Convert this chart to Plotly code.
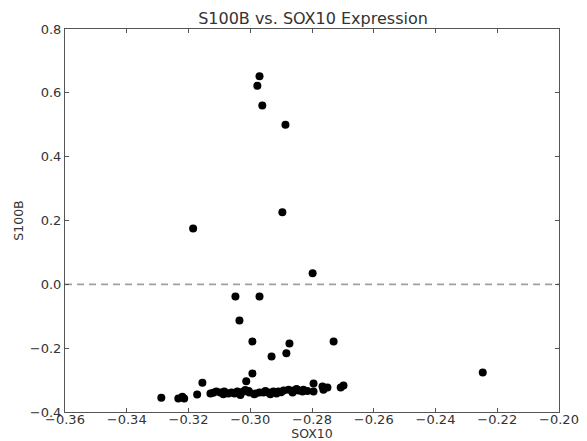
import plotly.graph_objects as go

# SOX10 (x) and S100B (y) expression values
sox10 = [
    -0.2970, -0.2977, -0.2961, -0.2886, -0.2896, -0.3185, -0.2798,
    -0.3048, -0.2970, -0.3035, -0.2993, -0.2873, -0.2730, -0.2883,
    -0.2931, -0.2993, -0.2247, -0.3013, -0.3155,
    -0.3288, -0.3233, -0.3220, -0.3214, -0.3172, -0.3129,
    -0.3110, -0.3097, -0.3084, -0.3071, -0.3061, -0.3051, -0.3042,
    -0.3032, -0.3022, -0.3003, -0.2983, -0.2970, -0.2957, -0.2941,
    -0.2925, -0.2909, -0.2892, -0.2876, -0.2860, -0.2844, -0.2828,
    -0.2795, -0.2795, -0.2766, -0.2763, -0.2750, -0.2707, -0.2698,
    -0.3032, -0.2987, -0.2951, -0.2915, -0.2863, -0.2831, -0.3087,
    -0.3016, -0.2935, -0.3120, -0.3005, -0.2900, -0.2850, -0.2815,
]
s100b = [
    0.652, 0.622, 0.560, 0.500, 0.226, 0.175, 0.035,
    -0.038, -0.038, -0.113, -0.179, -0.185, -0.179, -0.216,
    -0.226, -0.279, -0.276, -0.304, -0.308,
    -0.355, -0.358, -0.352, -0.358, -0.345, -0.342,
    -0.336, -0.339, -0.336, -0.342, -0.339, -0.342, -0.336,
    -0.339, -0.336, -0.339, -0.342, -0.339, -0.339, -0.339,
    -0.336, -0.336, -0.333, -0.330, -0.333, -0.333, -0.330,
    -0.311, -0.336, -0.320, -0.330, -0.323, -0.323, -0.317,
    -0.347, -0.344, -0.334, -0.342, -0.339, -0.336, -0.344,
    -0.331, -0.344, -0.340, -0.334, -0.338, -0.328, -0.334,
]

title_text = "S100B vs. SOX10 Expression"
x_label = "SOX10"
y_label = "S100B"
x_range = [-0.36, -0.20]
y_range = [-0.4, 0.8]
ref_level = 0.0

# The page body has an 8px default margin, so the figure is sized to the visible area.
W, H = 579, 433

fig = go.Figure()
fig.add_trace(go.Scatter(
    x=sox10, y=s100b, mode="markers",
    marker=dict(color="black", size=8, line=dict(width=0)),
    showlegend=False,
))
fig.add_shape(type="line", xref="paper", x0=0, x1=1, yref="y", y0=ref_level, y1=ref_level,
              line=dict(color="#a0a0a0", width=1.8, dash="7px,5px"), layer="below")

axis_common = dict(
    showgrid=False, zeroline=False, showline=True, linecolor="#555555", linewidth=1,
    mirror="ticks", ticks="inside", ticklen=4, tickcolor="#555555",
    tickfont=dict(size=13, color="#333333"), automargin=False,
)
fig.update_xaxes(range=x_range, dtick=0.02, tick0=-0.36, tickformat=".2f",
                 ticklabelstandoff=-5,
                 title=dict(text=x_label, font=dict(size=12.5, color="#333333"), standoff=8),
                 **axis_common)
fig.update_yaxes(range=y_range, dtick=0.2, tick0=-0.4, tickformat=".1f",
                 title=dict(text=y_label, font=dict(size=12.5, color="#333333"), standoff=3),
                 **axis_common)
fig.update_layout(
    width=W, height=H,
    margin=dict(l=57, r=28, t=21, b=29),
    paper_bgcolor="white", plot_bgcolor="white",
    font=dict(family="DejaVu Sans", color="#333333"),
    title=dict(text=title_text, x=305 / W, xanchor="center",
               y=1 - 10 / H, yanchor="middle", font=dict(size=16, color="#333333")),
)
fig.write_html("out.html")
